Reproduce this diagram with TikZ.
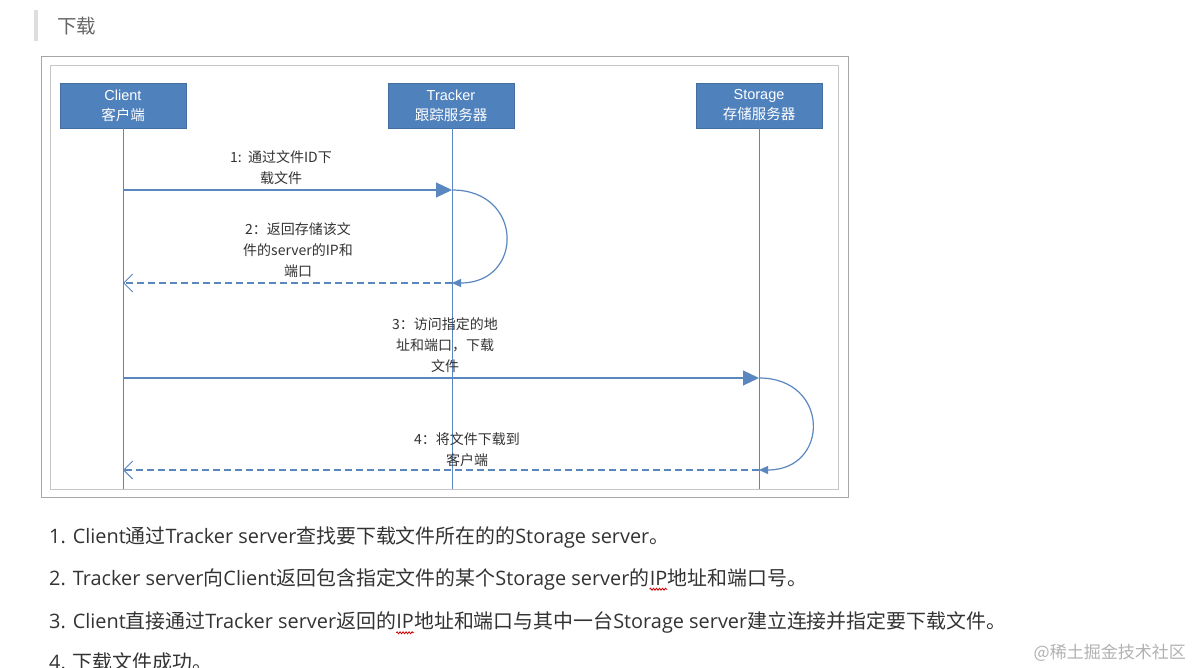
\documentclass[tikz,border=0pt]{standalone}
\usepackage{fontspec}
\setmainfont{Open Sans}
\newfontfamily\cjk{Noto Sans CJK SC}
\newfontfamily\arialf{Liberation Sans}
\usetikzlibrary{arrows.meta,decorations.pathmorphing}
\newcommand\zh[1]{{\cjk #1}}
\definecolor{boxblue}{HTML}{4F81BD}
\definecolor{lineblue}{HTML}{5B87C0}
\definecolor{txt}{HTML}{333333}
\tikzset{
  actor/.style={fill=boxblue, draw=boxblue!85!black, line width=0.4pt, minimum width=126pt, minimum height=45pt, inner sep=0pt, text=white, align=center, font=\fontsize{14.5}{20}\selectfont},
  life/.style={draw=lineblue, line width=1pt},
  msg/.style={draw=lineblue, line width=1.2pt, -{Triangle[length=16pt,width=15pt]}},
  ret/.style={draw=lineblue, line width=1.2pt, dash pattern=on 7pt off 4pt, -{Straight Barb[length=9pt,width=18pt,line width=1pt]}},
  loop/.style={draw=lineblue, line width=1.2pt, -{Triangle[length=9pt,width=8pt]}},
  lbl/.style={text=txt, align=center, inner sep=0pt, font=\cjk\fontsize{14}{21}\selectfont},
  listline/.style={anchor=west, text=txt, inner sep=0pt, font=\fontsize{19.9}{22}\selectfont},
  chain/.style={listline, anchor=base west},
  spell/.style={red!80!black, line width=0.8pt, decorate, decoration={snake, amplitude=1pt, segment length=3pt}},
}
\begin{document}
\begin{tikzpicture}[x=1pt,y=-1pt]
\useasboundingbox (0,0) rectangle (1202,668);
\fill[white] (0,0) rectangle (1202,668);
% heading
\fill[black!13] (34,10) rectangle (38,41);
\node[anchor=west, inner sep=0pt, text=black!60, font=\cjk\fontsize{19.5}{22}\selectfont] (head) at (57,26) {下载};
% frame
\draw[black!35, line width=1pt] (41,57) rectangle (848,497);
\draw[black!22, line width=1pt] (50,66) rectangle (838,489);
% actors
\node[actor] (client) at (123,105.5) {{\arialf Client}\\\zh{客户端}};
\node[actor] (tracker) at (451,105.5) {{\arialf Tracker}\\\zh{跟踪服务器}};
\node[actor] (storage) at (759,105.5) {{\arialf Storage}\\\zh{存储服务器}};
% lifeline ends
\coordinate (cb) at (123,489);
\coordinate (tb) at (452,489);
\coordinate (sb) at (759,489);
\draw[life] (client.south -| cb) -- (cb);
\draw[life] (tracker.south -| tb) -- (tb);
\draw[life] (storage.south -| sb) -- (sb);
% message points
\coordinate (c1) at (123,190);
\coordinate (t1) at (452,190);
\coordinate (t2) at (452,283);
\coordinate (c2) at (123,283);
\coordinate (c3) at (123,378);
\coordinate (s3) at (759,378);
\coordinate (s4) at (759,470);
\coordinate (c4) at (123,470);
\draw[msg] (c1) -- (t1);
\draw[loop] (t1) .. controls (524,190) and (524,283) .. (t2);
\draw[ret] (t2) -- (c2);
\draw[msg] (c3) -- (s3);
\draw[loop] (s3) .. controls (830,378) and (830,470) .. (s4);
\draw[ret] (s4) -- (c4);
% labels
\node[lbl] (l1) at (281,168) {1:\ \ 通过文件ID下\\载文件};
\node[lbl] (l2) at (298,250) {2：返回存储该文\\件的server的IP和\\端口};
\node[lbl] (l3) at (445,345) {3：访问指定的地\\址和端口，下载\\文件};
\node[lbl] (l4) at (467,450) {4：将文件下载到\\客户端};
% list
\node[listline] (p1) at (49,537) {1. Client\zh{通过}Tracker server\zh{查找要下载文件所在的的}Storage server\zh{。}};
\node[listline] (p2a) at (49,579) {2. Tracker server\zh{向}Client\zh{返回包含指定文件的某个}Storage server\zh{的}};
\node[chain] (p2ip) at (p2a.base east) {IP};
\node[chain] (p2b) at (p2ip.base east) {\zh{地址和端口号。}};
\draw[spell] ([yshift=-4pt]p2ip.south west) -- ([yshift=-4pt]p2ip.south east);
\node[listline] (p3a) at (49,621) {3. Client\zh{直接通过}Tracker server\zh{返回的}};
\node[chain] (p3ip) at (p3a.base east) {IP};
\node[chain] (p3b) at (p3ip.base east) {\zh{地址和端口与其中一台}Storage server\zh{建立连接并指定要下载文件。}};
\draw[spell] ([yshift=-4pt]p3ip.south west) -- ([yshift=-4pt]p3ip.south east);
\node[listline] (p4) at (49,662) {4. \zh{下载文件成功。}};
% watermark
\node[anchor=east, inner sep=0pt, text=black!30, font=\cjk\fontsize{17}{20}\selectfont] (wm) at (1186,653) {@稀土掘金技术社区};
\end{tikzpicture}
\end{document}
